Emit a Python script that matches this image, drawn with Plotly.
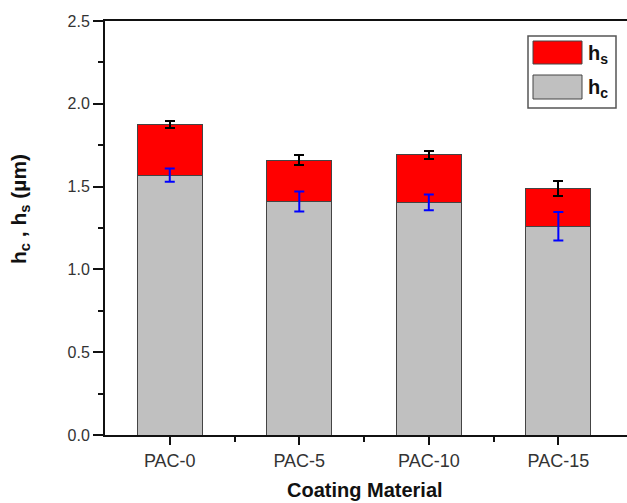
import plotly.graph_objects as go

categories = ["PAC-0", "PAC-5", "PAC-10", "PAC-15"]
hc_values = [1.57, 1.41, 1.405, 1.26]
hc_errors = [0.04, 0.06, 0.048, 0.086]
hs_values = [0.306, 0.25, 0.286, 0.231]
hs_errors = [0.02, 0.03, 0.026, 0.045]

W, H = 627, 503
L, R, T, B = 105, 0, 21, 68
pw, ph = W - L - R, H - T - B

def px(x):
    return (x - L) / pw

def py(y):
    return (H - B - y) / ph

fig = go.Figure()
fig.add_trace(go.Bar(
    x=categories, y=hc_values, name="h<sub>c</sub>",
    marker=dict(color="#c0c0c0", line=dict(color="#444444", width=1)),
    width=0.5, showlegend=False,
))
fig.add_trace(go.Bar(
    x=categories, y=hs_values, name="h<sub>s</sub>",
    marker=dict(color="#ff0000", line=dict(color="#444444", width=1)),
    error_y=dict(type="data", array=hs_errors, color="#000000", thickness=2, width=5),
    width=0.5, showlegend=False,
))
# hc error bars drawn on top of the stacked bars
fig.add_trace(go.Scatter(
    x=categories, y=hc_values, mode="markers",
    marker=dict(size=1, opacity=0),
    error_y=dict(type="data", array=hc_errors, color="#0000ff", thickness=2, width=5),
    showlegend=False, hoverinfo="skip",
))

font_family = "Liberation Sans, Arial, sans-serif"
fig.update_layout(
    barmode="stack",
    width=W, height=H,
    margin=dict(l=L, r=R, t=T, b=B),
    paper_bgcolor="white", plot_bgcolor="white",
    font=dict(family=font_family, color="#333333", size=16),
    xaxis=dict(
        range=[-0.5, 3.53], showline=True, linecolor="#111111", linewidth=2,
        mirror=True, ticks="outside", ticklen=8, tickwidth=2, tickcolor="#111111",
        showgrid=False, tickfont=dict(size=18, color="#333333"),
        minor=dict(tickvals=[0.5, 1.5, 2.5], ticks="outside", ticklen=5, tickwidth=2, tickcolor="#111111"),
    ),
    yaxis=dict(
        range=[0, 2.5], dtick=0.5, tickformat=".1f", showline=True, linecolor="#111111",
        linewidth=2, ticks="outside", ticklen=10, tickwidth=2, tickcolor="#111111",
        showgrid=False, zeroline=False, tickfont=dict(size=16, color="#333333"),
        minor=dict(dtick=0.25, ticks="outside", ticklen=5, tickwidth=2, tickcolor="#111111"),
    ),
    shapes=[
        dict(type="rect", xref="paper", yref="paper", x0=px(528), x1=px(616), y0=py(108), y1=py(36),
             line=dict(color="#555555", width=1.5), fillcolor="white"),
        dict(type="rect", xref="paper", yref="paper", x0=px(533), x1=px(582), y0=py(64), y1=py(41),
             line=dict(color="#444444", width=1), fillcolor="#ff0000"),
        dict(type="rect", xref="paper", yref="paper", x0=px(533), x1=px(582), y0=py(99), y1=py(75),
             line=dict(color="#444444", width=1), fillcolor="#c0c0c0"),
    ],
    annotations=[
        dict(text="<b>h<sub>s</sub></b>", xref="paper", yref="paper", x=px(586), y=py(54),
             xanchor="left", yanchor="middle", showarrow=False, font=dict(size=20, color="#111111")),
        dict(text="<b>h<sub>c</sub></b>", xref="paper", yref="paper", x=px(586), y=py(88),
             xanchor="left", yanchor="middle", showarrow=False, font=dict(size=20, color="#111111")),
        dict(text="<b>Coating Material</b>", xref="paper", yref="paper", x=px(365), y=py(503),
             xanchor="center", yanchor="bottom", showarrow=False, font=dict(size=20, color="#111111")),
        dict(text="<b>h<sub>c</sub> , h<sub>s</sub> (µm)</b>", xref="paper", yref="paper", x=px(20), y=py(209),
             xanchor="center", yanchor="middle", textangle=-90, showarrow=False,
             font=dict(size=21, color="#111111")),
    ],
)

fig.write_html("out.html")
